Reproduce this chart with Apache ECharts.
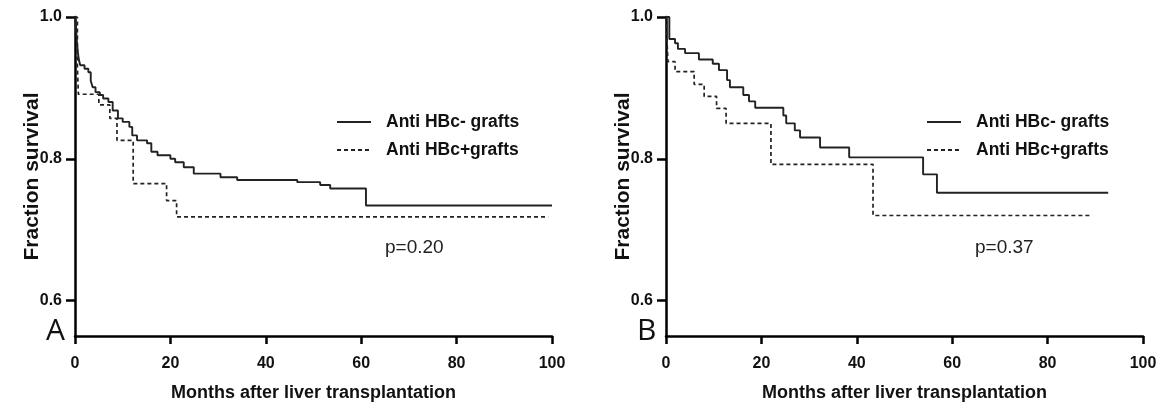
<!DOCTYPE html>
<html>
<head>
<meta charset="utf-8">
<script src="https://cdn.jsdelivr.net/npm/echarts@6/dist/echarts.min.js"></script>
<style>html,body{margin:0;padding:0;background:#fff}#c{width:1166px;height:403px}</style>
</head>
<body>
<div id="c"></div>
<script>
// ---- data (months, fraction survival) ----
const seriesNames = ['Anti HBc- grafts', 'Anti HBc+grafts'];
const xTicks = [0, 20, 40, 60, 80, 100];
const yTicks = [0.6, 0.8, 1.0];
const pValues = ['p=0.20', 'p=0.37'];
const panelLetters = ['A', 'B'];

const monthsA_neg = [0, 0.2, 0.4, 0.6, 0.8, 1.1, 2, 2.8, 3.3, 3.7, 4.3, 5.2, 5.9, 7, 7.9, 9, 10, 11.4, 12, 13, 15.1, 16, 17.3, 20, 21, 22.8, 24.9, 30.5, 34, 46.6, 51.4, 53.5, 61, 100];
const survA_neg   = [1.0, 0.985, 0.965, 0.95, 0.94, 0.932, 0.927, 0.922, 0.91, 0.901, 0.894, 0.89, 0.885, 0.88, 0.868, 0.857, 0.852, 0.845, 0.833, 0.826, 0.822, 0.81, 0.805, 0.8, 0.795, 0.788, 0.779, 0.774, 0.77, 0.767, 0.763, 0.758, 0.734, 0.734];

const monthsA_pos = [0, 0.5, 0.7, 5.0, 7.3, 8.8, 12.2, 19.2, 21.3, 99.2];
const survA_pos   = [1.0, 0.93, 0.891, 0.876, 0.857, 0.826, 0.765, 0.741, 0.718, 0.718];

const monthsB_neg = [0, 0.7, 1.9, 2.5, 4, 6.9, 9.8, 11.1, 12.8, 13.4, 16.2, 17.4, 18.7, 24.6, 25.2, 27, 28.1, 32.3, 38.4, 53.9, 56.8, 92.7];
const survB_neg   = [1.0, 0.969, 0.963, 0.955, 0.949, 0.940, 0.934, 0.925, 0.911, 0.901, 0.89, 0.881, 0.872, 0.861, 0.85, 0.84, 0.83, 0.816, 0.802, 0.778, 0.752, 0.752];

const monthsB_pos = [0, 0.4, 1.9, 5.9, 8, 10.6, 12.6, 22, 43.4, 89.3];
const survB_pos   = [1.0, 0.937, 0.923, 0.905, 0.888, 0.871, 0.85, 0.792, 0.72, 0.72];

// ---- build chart ----
const FONT = '"Liberation Sans", Arial, sans-serif';
const pair = (xs, ys) => xs.map((x, i) => [x, ys[i]]);
const gridDefs = [
  {left: 75, top: 17, width: 477, height: 319, outerBoundsMode: 'none', containLabel: false},
  {left: 666, top: 17, width: 477, height: 319, outerBoundsMode: 'none', containLabel: false}
];

function xAxis(i) {
  return {
    type: 'value', gridIndex: i, min: 0, max: 100, interval: 20,
    name: 'Months after liver transplantation', nameLocation: 'middle', nameGap: 48, nameMoveOverlap: false,
    nameTextStyle: {fontFamily: FONT, fontWeight: 'bold', fontSize: 18, color: '#111'},
    axisLine: {lineStyle: {color: '#000', width: 2.5}},
    axisTick: {show: true, length: 8, lineStyle: {color: '#000', width: 2.5}},
    axisLabel: {fontFamily: FONT, fontWeight: 'bold', fontSize: 16, color: '#111', margin: 20,
                customValues: xTicks},
    splitLine: {show: false}
  };
}
function yAxis(i) {
  return {
    type: 'value', gridIndex: i, min: 0.55, max: 1.0,
    name: 'Fraction survival', nameLocation: 'middle', nameGap: 32, nameRotate: 90, nameMoveOverlap: false,
    nameTextStyle: {fontFamily: FONT, fontWeight: 'bold', fontSize: 21, color: '#111'},
    axisLine: {lineStyle: {color: '#000', width: 2.5}},
    axisTick: {show: true, length: 9, lineStyle: {color: '#000', width: 2.5}, customValues: yTicks},
    axisLabel: {fontFamily: FONT, fontWeight: 'bold', fontSize: 16, color: '#111', margin: 13,
                customValues: yTicks, formatter: v => v.toFixed(1)},
    splitLine: {show: false}
  };
}
function km(name, xi, data, dashed) {
  return {
    type: 'line', name: name, xAxisIndex: xi, yAxisIndex: xi, step: 'end', symbol: 'none',
    data: data, animation: false, color: '#222',
    lineStyle: {color: '#222', width: dashed ? 1.7 : 1.9, type: dashed ? [4, 3] : 'solid'}
  };
}
function legend(left) {
  return {
    orient: 'vertical', left: left, top: 108, itemWidth: 34, itemHeight: 14, itemGap: 10,
    data: seriesNames, selectedMode: false,
    itemStyle: {opacity: 0},
    textStyle: {fontFamily: FONT, fontWeight: 'bold', fontSize: 17.5, color: '#111', padding: [0, 0, 0, 10]}
  };
}

const chart = echarts.init(document.getElementById('c'), null, {renderer: 'canvas'});
chart.setOption({
  backgroundColor: '#fff',
  animation: false,
  grid: gridDefs,
  xAxis: [xAxis(0), xAxis(1)],
  yAxis: [yAxis(0), yAxis(1)],
  legend: [legend(331), legend(921)],
  series: [
    km(seriesNames[0], 0, pair(monthsA_neg, survA_neg), false),
    km(seriesNames[1], 0, pair(monthsA_pos, survA_pos), true),
    km(seriesNames[0], 1, pair(monthsB_neg, survB_neg), false),
    km(seriesNames[1], 1, pair(monthsB_pos, survB_pos), true)
  ],
  graphic: [
    {type: 'text', left: 385, top: 238, style: {text: pValues[0], font: '19px ' + FONT, fill: '#222'}},
    {type: 'text', left: 975, top: 238, style: {text: pValues[1], font: '19px ' + FONT, fill: '#222'}},
    {type: 'text', left: 46, top: 316, style: {text: panelLetters[0], font: '30px "Open Sans", "DejaVu Sans", sans-serif', fill: '#111'}},
    {type: 'text', left: 637, top: 316, style: {text: panelLetters[1], font: '30px "Open Sans", "DejaVu Sans", sans-serif', fill: '#111'}}
  ]
});
</script>
</body>
</html>
